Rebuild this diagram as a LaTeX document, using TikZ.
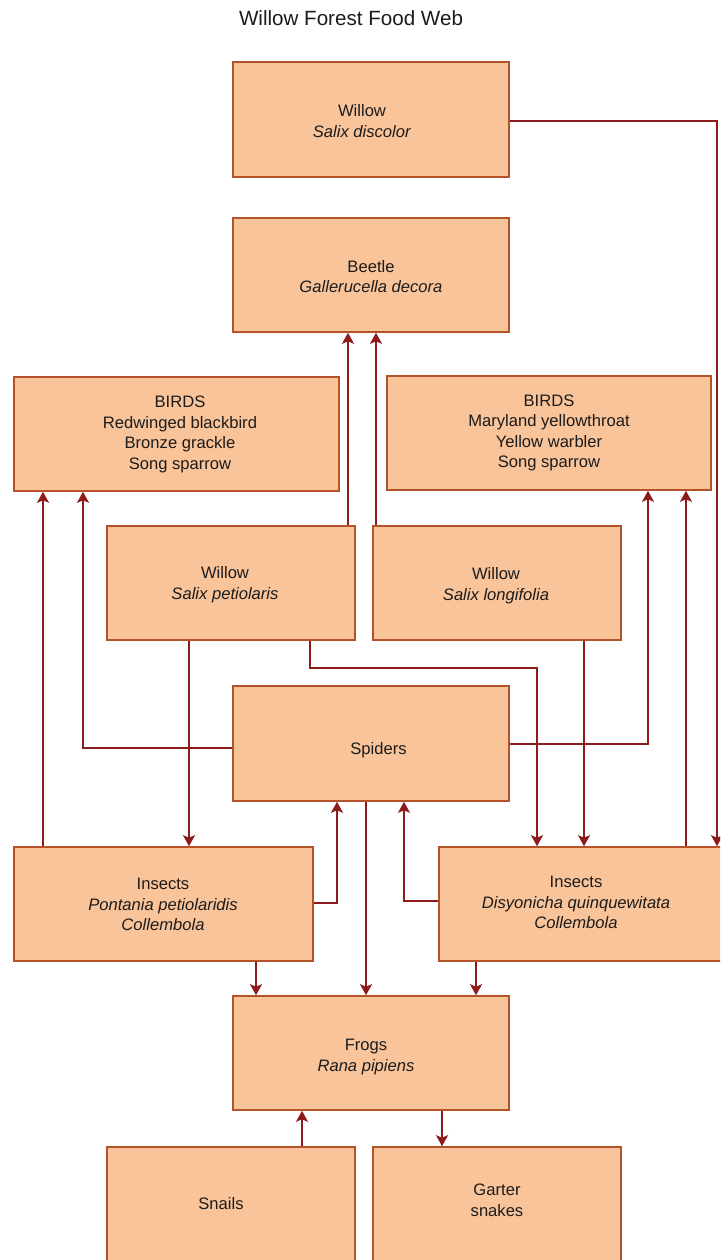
\documentclass[tikz,border=0pt]{standalone}
\usepackage{fontspec}
\setmainfont{Liberation Sans}
\usetikzlibrary{arrows.meta}
\definecolor{boxfill}{HTML}{F9C49A}
\definecolor{boxline}{HTML}{B4532A}
\definecolor{wire}{HTML}{8E1B1B}
\definecolor{ink}{HTML}{1C1C1C}
\begin{document}
\begin{tikzpicture}[x=1pt,y=-1pt,
  box/.style={draw=boxline, fill=boxfill, line width=1.6pt, rectangle,
    minimum height=114pt, inner sep=0pt},
  label/.style={align=center, text=ink, inner sep=0pt,
    font=\fontsize{16.6}{20.6}\selectfont},
  feed/.style={draw=wire, line width=1.7pt,
    -{Stealth[length=11pt, width=12pt, inset=2.5pt]}}]
\clip (0,0) rectangle (720,1260);
\fill[white] (0,0) rectangle (720,1260);

% title
\node[text=ink, font=\fontsize{20.6}{24}\selectfont] (title) at (351,18) {Willow Forest Food Web};

% organism boxes
\node[box, minimum width=276pt, minimum height=115pt] (wdis) at (371,119.5) {};
\node[box, minimum width=276pt] (beetle) at (371,275) {};
\node[box, minimum width=325pt] (birdsL) at (176.5,434) {};
\node[box, minimum width=324pt] (birdsR) at (549,433) {};
\node[box, minimum width=248pt] (wpet) at (231,583) {};
\node[box, minimum width=248pt] (wlon) at (497,583) {};
\node[box, minimum width=276pt, minimum height=115pt] (spiders) at (371,743.5) {};
\node[box, minimum width=299pt] (insL) at (163.5,904) {};
\node[box, minimum width=301pt] (insR) at (589.5,904) {};
\node[box, minimum width=276pt] (frogs) at (371,1053) {};
\node[box, minimum width=248pt] (snails) at (231,1204) {};
\node[box, minimum width=248pt] (garter) at (497,1204) {};

% organism names
\node[label] (wdisT) at (362,121) {Willow\\\textit{Salix discolor}};
\node[label] (beetleT) at (371,276.5) {Beetle\\\textit{Gallerucella decora}};
\node[label] (birdsLT) at (180,434.5) {BIRDS\\Redwinged blackbird\\Bronze grackle\\Song sparrow};
\node[label] (birdsRT) at (549,433) {BIRDS\\Maryland yellowthroat\\Yellow warbler\\Song sparrow};
\node[label] (wpetT) at (225,584.5) {Willow\\\textit{Salix petiolaris}};
\node[label] (wlonT) at (496,585.5) {Willow\\\textit{Salix longifolia}};
\node[label] (spidersT) at (378.5,750) {Spiders};
\node[label] (insLT) at (163,904.5) {Insects\\\textit{Pontania petiolaridis}\\\textit{Collembola}};
\node[label] (insRT) at (576,902.5) {Insects\\\textit{Disyonicha quinquewitata}\\\textit{Collembola}};
\node[label] (frogsT) at (366,1057) {Frogs\\\textit{Rana pipiens}};
\node[label] (snailsT) at (221,1204) {Snails};
\node[label] (garterT) at (497,1200.5) {Garter\\snakes};

% feeding links
\draw[feed] (wdis.east |- 0,121) -| (717,0 |- insR.north);
\draw[feed] (348,0 |- wpet.north) -- (348,0 |- beetle.south);
\draw[feed] (376,0 |- wlon.north) -- (376,0 |- beetle.south);
\draw[feed] (43,0 |- insL.north) -- (43,0 |- birdsL.south);
\draw[feed] (spiders.west |- 0,748) -| (83,0 |- birdsL.south);
\draw[feed] (189,0 |- wpet.south) -- (189,0 |- insL.north);
\draw[feed] (310,0 |- wpet.south) -- ++(0,27) -| (537,0 |- insR.north);
\draw[feed] (584,0 |- wlon.south) -- (584,0 |- insR.north);
\draw[feed] (spiders.east |- 0,744) -| (648,0 |- birdsR.south);
\draw[feed] (686,0 |- insR.north) -- (686,0 |- birdsR.south);
\draw[feed] (insL.east |- 0,903) -| (337,0 |- spiders.south);
\draw[feed] (insR.west |- 0,901) -| (404,0 |- spiders.south);
\draw[feed] (366,0 |- spiders.south) -- (366,0 |- frogs.north);
\draw[feed] (256,0 |- insL.south) -- (256,0 |- frogs.north);
\draw[feed] (476,0 |- insR.south) -- (476,0 |- frogs.north);
\draw[feed] (302,0 |- snails.north) -- (302,0 |- frogs.south);
\draw[feed] (442,0 |- frogs.south) -- (442,0 |- garter.north);
\end{tikzpicture}
\end{document}
